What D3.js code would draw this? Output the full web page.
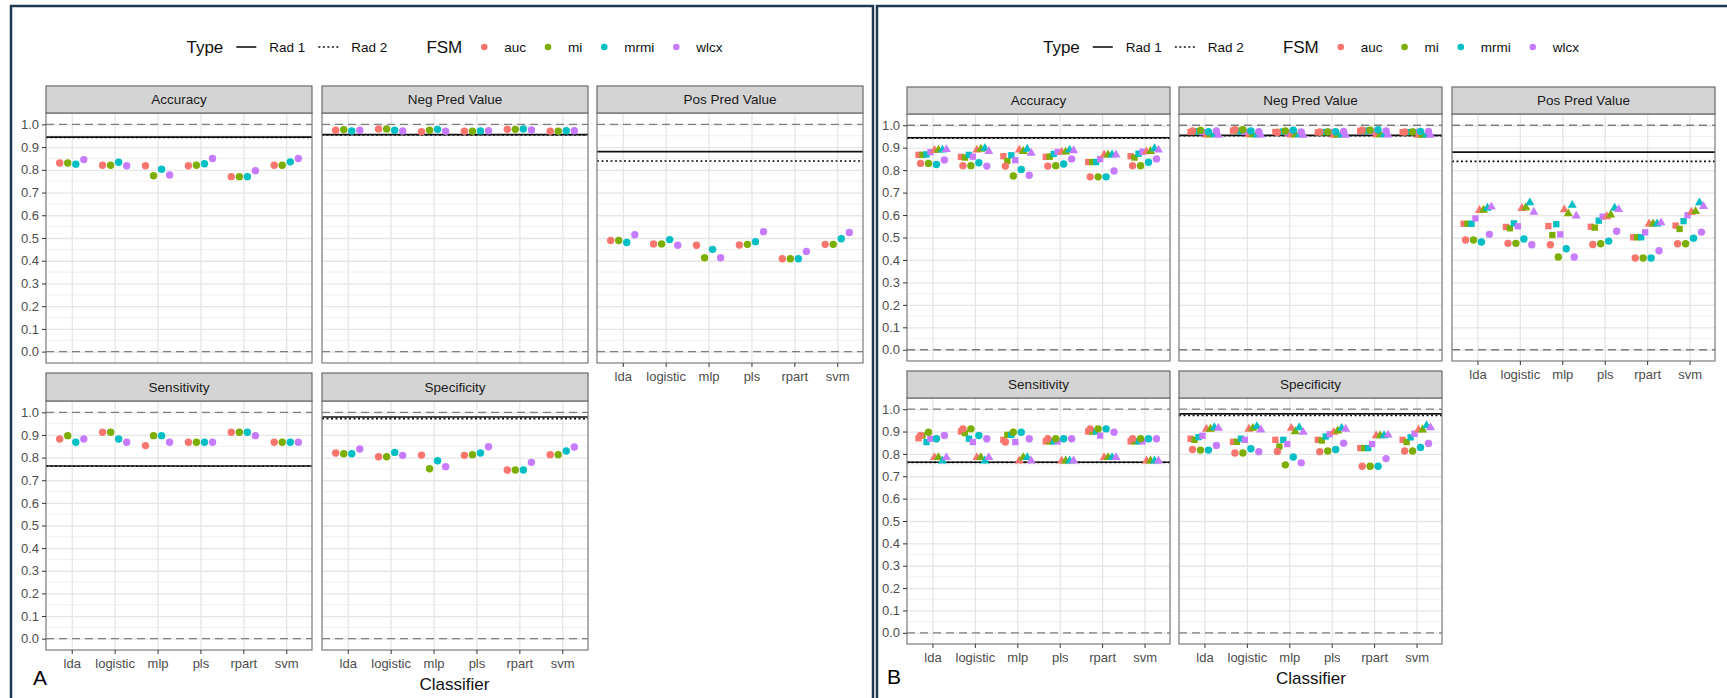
<!DOCTYPE html>
<html>
<head>
<meta charset="utf-8">
<script src="https://cdn.jsdelivr.net/npm/d3@7"></script>
<style>
body { margin: 0; background: #fff; }
svg text { font-family: "Liberation Sans", Arial, Helvetica, sans-serif; }
</style>
</head>
<body>
<svg id="chart" width="1727" height="698"></svg>
<script>
// categories
const classifiers = ["lda", "logistic", "mlp", "pls", "rpart", "svm"];
const fsms = ["auc", "mi", "mrmi", "wlcx"];
const metrics = ["Accuracy", "Neg Pred Value", "Pos Pred Value", "Sensitivity", "Specificity"];
const fsmColors = ["#F8766D", "#7CAE00", "#00BFC4", "#C77CFF"];

// reference lines (Rad 1 solid, Rad 2 dotted), one per metric
const rad1 = [0.944, 0.955, 0.880, 0.763, 0.979];
const rad2 = [0.942, 0.953, 0.839, 0.762, 0.972];

// circles: rows = classifier, cols = fsm
const accCircle = [[0.830,0.830,0.825,0.845],[0.820,0.820,0.833,0.818],[0.818,0.774,0.803,0.777],[0.818,0.820,0.827,0.850],[0.770,0.770,0.770,0.796],[0.820,0.820,0.835,0.850]];
const npvCircle = [[0.974,0.977,0.971,0.974],[0.980,0.980,0.974,0.971],[0.968,0.974,0.978,0.970],[0.970,0.970,0.971,0.972],[0.978,0.978,0.980,0.975],[0.970,0.970,0.972,0.972]];
const ppvCircle = [[0.489,0.489,0.480,0.514],[0.474,0.474,0.493,0.468],[0.468,0.413,0.450,0.413],[0.469,0.472,0.484,0.528],[0.409,0.409,0.409,0.441],[0.472,0.472,0.497,0.524]];
const sensCircle = [[0.882,0.897,0.868,0.882],[0.912,0.912,0.882,0.868],[0.853,0.897,0.897,0.868],[0.868,0.868,0.868,0.868],[0.912,0.912,0.912,0.897],[0.868,0.868,0.868,0.868]];
const specCircle = [[0.820,0.817,0.817,0.838],[0.804,0.804,0.823,0.810],[0.811,0.751,0.786,0.760],[0.810,0.813,0.820,0.848],[0.745,0.745,0.745,0.779],[0.813,0.813,0.829,0.847]];

// squares (panel B)
const accSquare = [[0.868,0.868,0.870,0.880],[0.859,0.856,0.868,0.860],[0.862,0.841,0.866,0.844],[0.859,0.860,0.872,0.881],[0.836,0.836,0.836,0.849],[0.862,0.856,0.873,0.882]];
const npvSquare = [[0.970,0.972,0.972,0.969],[0.976,0.976,0.972,0.970],[0.970,0.970,0.972,0.967],[0.968,0.968,0.970,0.970],[0.975,0.975,0.976,0.972],[0.969,0.969,0.970,0.970]];
const ppvSquare = [[0.561,0.561,0.561,0.585],[0.547,0.541,0.563,0.550],[0.551,0.511,0.559,0.514],[0.548,0.544,0.575,0.593],[0.501,0.501,0.501,0.523],[0.553,0.538,0.573,0.599]];
const sensSquare = [[0.870,0.882,0.853,0.868],[0.900,0.893,0.868,0.853],[0.863,0.885,0.885,0.853],[0.856,0.856,0.856,0.856],[0.900,0.900,0.900,0.882],[0.856,0.856,0.856,0.856]];
const specSquare = [[0.868,0.863,0.875,0.881],[0.854,0.854,0.868,0.863],[0.863,0.833,0.863,0.844],[0.863,0.860,0.878,0.888],[0.826,0.826,0.826,0.844],[0.863,0.853,0.874,0.890]];

// triangles (panel B)
const accTriangle = [[0.888,0.890,0.890,0.892],[0.890,0.894,0.897,0.884],[0.890,0.884,0.894,0.876],[0.881,0.881,0.890,0.887],[0.868,0.868,0.868,0.868],[0.882,0.884,0.896,0.890]];
const npvTriangle = [[0.957,0.958,0.958,0.956],[0.958,0.958,0.957,0.957],[0.957,0.958,0.958,0.956],[0.956,0.957,0.957,0.956],[0.958,0.958,0.958,0.957],[0.956,0.956,0.957,0.956]];
const ppvTriangle = [[0.621,0.622,0.631,0.636],[0.630,0.633,0.655,0.613],[0.624,0.606,0.644,0.596],[0.593,0.601,0.631,0.625],[0.561,0.561,0.561,0.566],[0.613,0.616,0.655,0.639]];
const sensTriangle = [[0.784,0.784,0.769,0.784],[0.784,0.784,0.769,0.784],[0.769,0.784,0.784,0.769],[0.769,0.769,0.769,0.769],[0.784,0.784,0.784,0.784],[0.769,0.769,0.769,0.769]];
const specTriangle = [[0.911,0.911,0.918,0.915],[0.911,0.915,0.923,0.908],[0.915,0.900,0.918,0.897],[0.897,0.903,0.915,0.911],[0.882,0.882,0.882,0.885],[0.908,0.908,0.926,0.918]];

const circleData = [accCircle, npvCircle, ppvCircle, sensCircle, specCircle];
const squareData = [accSquare, npvSquare, ppvSquare, sensSquare, specSquare];
const triangleData = [accTriangle, npvTriangle, ppvTriangle, sensTriangle, specTriangle];

// layout of the two figures
const layouts = [
    { letter: "A", frame: [11, 6, 862, 720], cols: [46, 322, 597], colW: 266,
      rows: [{ strip: 86, top: 113, bottom: 363 }, { strip: 373, top: 401, bottom: 650 }],
      shapes: false, letterPos: [33, 685], titleY: 690, legendY: 47 },
    { letter: "B", frame: [877, 6, 880, 720], cols: [907, 1179, 1452], colW: 263,
      rows: [{ strip: 87, top: 114, bottom: 361 }, { strip: 371, top: 398, bottom: 644 }],
      shapes: true, letterPos: [887, 684], titleY: 684, legendY: 47 }
];

const svg = d3.select("#chart");

function drawFigure(L) {
    const fig = svg.append("g");

    metrics.forEach((m, i) => {
        const col = i % 3, row = Math.floor(i / 3);
        const x0 = L.cols[col], w = L.colW, r = L.rows[row];
        const x = d3.scalePoint().domain(classifiers).range([x0, x0 + w]).padding(0.6);
        const y = d3.scaleLinear().domain([-0.05, 1.05]).range([r.bottom, r.top]);
        const step = x.step();
        const g = fig.append("g");

        g.append("rect").attr("x", x0).attr("y", r.top).attr("width", w)
            .attr("height", r.bottom - r.top).attr("fill", "#fff");

        // minor grid
        g.selectAll(".minor").data(d3.range(0, 10).map(k => 0.05 + k * 0.1)).enter()
            .append("line").attr("x1", x0).attr("x2", x0 + w)
            .attr("y1", d => y(d)).attr("y2", d => y(d))
            .attr("stroke", "#ececec").attr("stroke-width", 0.8);

        // major grid
        g.append("g").attr("transform", `translate(${x0},0)`)
            .call(d3.axisLeft(y).tickValues(d3.range(0, 11).map(k => k / 10)).tickSize(-w).tickFormat(""))
            .call(a => a.select(".domain").remove())
            .selectAll("line").attr("stroke", "#e6e6e6").attr("stroke-width", 1.3);
        g.append("g").attr("transform", `translate(0,${r.bottom})`)
            .call(d3.axisBottom(x).tickSize(-(r.bottom - r.top)).tickFormat(""))
            .call(a => a.select(".domain").remove())
            .selectAll("line").attr("stroke", "#e6e6e6").attr("stroke-width", 1.3);

        // dashed bounds at 0 and 1
        [0, 1].forEach(v => {
            g.append("line").attr("x1", x0).attr("x2", x0 + w)
                .attr("y1", y(v)).attr("y2", y(v))
                .attr("stroke", "#7f7f7f").attr("stroke-width", 1.3)
                .attr("stroke-dasharray", "8,5");
        });

        // Rad 1 / Rad 2
        g.append("line").attr("x1", x0).attr("x2", x0 + w)
            .attr("y1", y(rad1[i])).attr("y2", y(rad1[i]))
            .attr("stroke", "#111").attr("stroke-width", 1.6);
        g.append("line").attr("x1", x0).attr("x2", x0 + w)
            .attr("y1", y(rad2[i])).attr("y2", y(rad2[i]))
            .attr("stroke", "#111").attr("stroke-width", 1.6)
            .attr("stroke-dasharray", "2,2.5");

        // squares & triangles (8-way dodge)
        if (L.shapes) {
            [squareData[i], triangleData[i]].forEach((tab, s) => {
                const sym = d3.symbol().type(s === 0 ? d3.symbolSquare : d3.symbolTriangle).size(s === 0 ? 40 : 36);
                tab.forEach((vals, ci) => {
                    vals.forEach((v, fi) => {
                        const k = s * 4 + fi;
                        const px = x(classifiers[ci]) + (k - 3.5) * 0.09375 * step;
                        g.append("path").attr("d", sym())
                            .attr("transform", `translate(${px},${y(v)})`)
                            .attr("fill", fsmColors[fi]);
                    });
                });
            });
        }

        // circles (4-way dodge)
        circleData[i].forEach((vals, ci) => {
            vals.forEach((v, fi) => {
                g.append("circle")
                    .attr("cx", x(classifiers[ci]) + (fi - 1.5) * 0.1875 * step)
                    .attr("cy", y(v)).attr("r", 3.7)
                    .attr("fill", fsmColors[fi]);
            });
        });

        // panel border
        g.append("rect").attr("x", x0).attr("y", r.top).attr("width", w)
            .attr("height", r.bottom - r.top).attr("fill", "none")
            .attr("stroke", "#7a7a7a").attr("stroke-width", 1.2);

        // strip
        g.append("rect").attr("x", x0).attr("y", r.strip).attr("width", w)
            .attr("height", r.top - r.strip).attr("fill", "#d4d4d4")
            .attr("stroke", "#6a6a6a").attr("stroke-width", 1.2);
        g.append("text").attr("x", x0 + w / 2).attr("y", (r.strip + r.top) / 2)
            .attr("dy", "0.36em").attr("text-anchor", "middle")
            .attr("font-size", 13.5).attr("fill", "#1a1a1a").text(m);

        // axes
        if (col === 0) {
            const ay = g.append("g").attr("transform", `translate(${x0},0)`)
                .call(d3.axisLeft(y).tickValues(d3.range(0, 11).map(k => k / 10))
                    .tickFormat(d3.format(".1f")).tickSize(4).tickPadding(3));
            ay.select(".domain").remove();
            ay.selectAll("line").attr("stroke", "#333");
            ay.selectAll("text").attr("font-size", 13).attr("fill", "#4d4d4d")
                .style("font-family", "'Liberation Sans', Arial, sans-serif");
        }
        if (row === 1 || col === 2) {
            const ax = g.append("g").attr("transform", `translate(0,${r.bottom})`)
                .call(d3.axisBottom(x).tickSize(4).tickPadding(5));
            ax.select(".domain").remove();
            ax.selectAll("line").attr("stroke", "#333");
            ax.selectAll("text").attr("font-size", 13).attr("fill", "#4d4d4d")
                .style("font-family", "'Liberation Sans', Arial, sans-serif");
        }
    });

    // axis title
    const plotL = L.cols[0], plotR = L.cols[2] + L.colW;
    fig.append("text").attr("x", (plotL + plotR) / 2).attr("y", L.titleY)
        .attr("text-anchor", "middle").attr("font-size", 17).attr("fill", "#111")
        .text("Classifier");

    // panel letter
    fig.append("text").attr("x", L.letterPos[0]).attr("y", L.letterPos[1])
        .attr("font-size", 21).attr("fill", "#000").text(L.letter);

    // legend
    const lg = fig.append("g");
    let cx = 0;
    const ly = L.legendY;
    const addText = (t, size) => {
        const el = lg.append("text").attr("x", cx).attr("y", ly).attr("dy", "0.36em")
            .attr("font-size", size).attr("fill", "#111").text(t);
        cx += el.node().getComputedTextLength();
    };
    addText("Type", 17);
    cx += 13;
    [["Rad 1", null], ["Rad 2", "2,2.5"]].forEach(([lab, dash]) => {
        const ln = lg.append("line").attr("x1", cx).attr("x2", cx + 20)
            .attr("y1", ly).attr("y2", ly).attr("stroke", "#111").attr("stroke-width", 1.6);
        if (dash) ln.attr("stroke-dasharray", dash);
        cx += 20 + 13;
        addText(lab, 13.5);
        cx += 13;
    });
    cx += 26;
    addText("FSM", 17);
    cx += 14;
    fsms.forEach((f, fi) => {
        lg.append("circle").attr("cx", cx + 8).attr("cy", ly).attr("r", 3.3)
            .attr("fill", fsmColors[fi]);
        cx += 16 + 12;
        addText(f, 13.5);
        cx += 14;
    });
    const totalW = cx - 14;
    lg.attr("transform", `translate(${(plotL + plotR) / 2 - totalW / 2},0)`);

    // frame
    fig.append("rect").attr("x", L.frame[0]).attr("y", L.frame[1])
        .attr("width", L.frame[2]).attr("height", L.frame[3])
        .attr("fill", "none").attr("stroke", "#1f3a52").attr("stroke-width", 2.5);
}

layouts.forEach(drawFigure);
</script>
</body>
</html>
